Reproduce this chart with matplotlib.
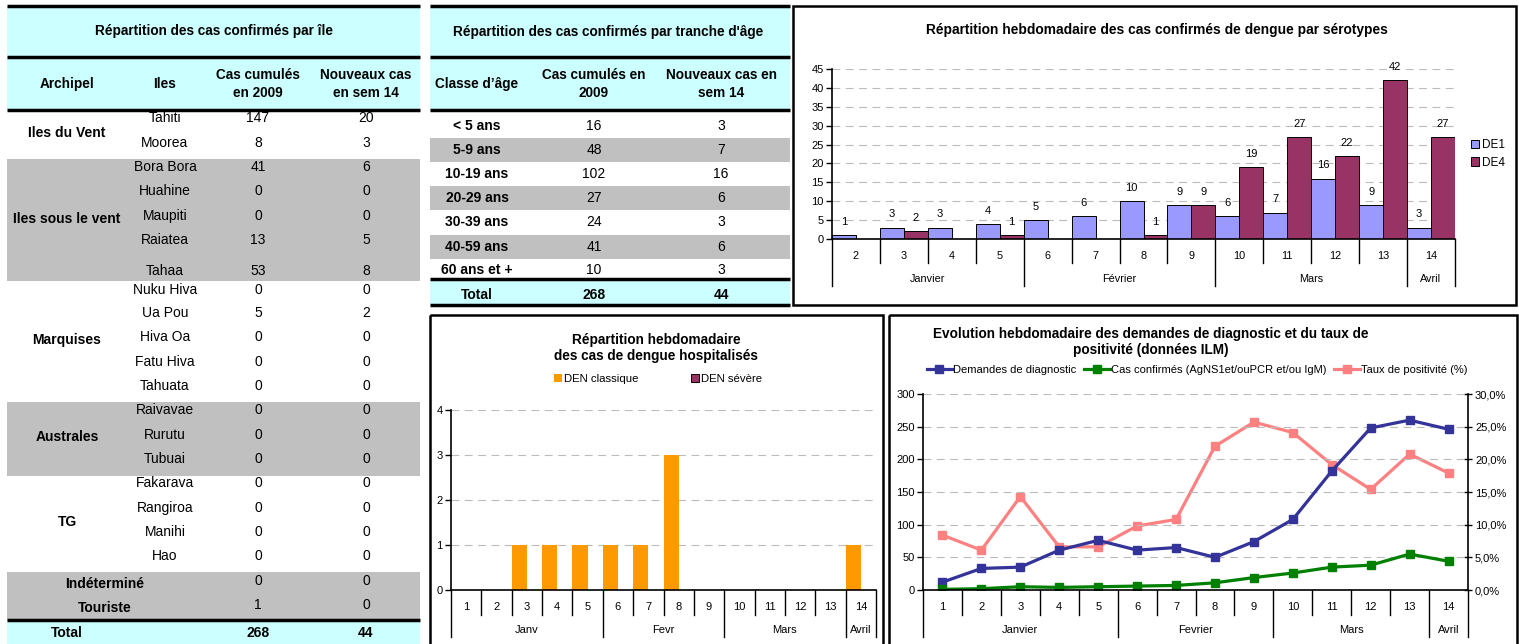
import numpy as np
import matplotlib.pyplot as plt
from matplotlib.patches import Rectangle, Patch
from matplotlib.ticker import FuncFormatter

plt.rcParams['font.family'] = ['Liberation Sans', 'DejaVu Sans']

W, H = 1519, 644

# ---- data: table par île
archipels = ['Iles du Vent', 'Iles sous le vent', 'Marquises', 'Australes', 'TG']
archipel_sizes = [2, 5, 5, 3, 4]
iles = ['Tahiti', 'Moorea', 'Bora Bora', 'Huahine', 'Maupiti', 'Raiatea', 'Tahaa',
        'Nuku Hiva', 'Ua Pou', 'Hiva Oa', 'Fatu Hiva', 'Tahuata',
        'Raivavae', 'Rurutu', 'Tubuai',
        'Fakarava', 'Rangiroa', 'Manihi', 'Hao']
iles_cumul = [147, 8, 41, 0, 0, 13, 53, 0, 5, 0, 0, 0, 0, 0, 0, 0, 0, 0, 0]
iles_nouv = [20, 3, 6, 0, 0, 5, 8, 0, 2, 0, 0, 0, 0, 0, 0, 0, 0, 0, 0]
autres = ['Indéterminé', 'Touriste']
autres_cumul = [0, 1]
autres_nouv = [0, 0]
total_cumul, total_nouv = 268, 44

# ---- data: table par âge
classes_age = ['< 5 ans', '5-9 ans', '10-19 ans', '20-29 ans', '30-39 ans', '40-59 ans', '60 ans et +']
age_cumul = [16, 48, 102, 27, 24, 41, 10]
age_nouv = [3, 7, 16, 6, 3, 6, 3]

# ---- data: sérotypes
sero_weeks = ['2', '3', '4', '5', '6', '7', '8', '9', '10', '11', '12', '13', '14']
de1 = [1, 3, 3, 4, 5, 6, 10, 9, 6, 7, 16, 9, 3]
de4 = [0, 2, 0, 1, 0, 0, 1, 9, 19, 27, 22, 42, 27]
sero_months = ['Janvier', 'Février', 'Mars', 'Avril']
sero_month_len = [4, 4, 4, 1]

# ---- data: hospitalisés
hosp_weeks = [str(i) for i in range(1, 15)]
den_classique = [0, 0, 1, 1, 1, 1, 1, 3, 0, 0, 0, 0, 0, 1]
den_severe = [0] * 14
hosp_months = ['Janv', 'Fevr', 'Mars', 'Avril']
hosp_month_len = [5, 4, 4, 1]

# ---- data: ILM
ilm_weeks = [str(i) for i in range(1, 15)]
demandes = [12, 33, 35, 61, 76, 61, 65, 50, 74, 108, 182, 248, 260, 246]
confirmes = [1, 2, 5, 4, 5, 6, 7, 11, 19, 26, 35, 38, 55, 44]
taux = [8.4, 6.1, 14.3, 6.6, 6.6, 9.8, 10.8, 22.0, 25.7, 24.1, 19.2, 15.4, 20.8, 17.9]
ilm_months = ['Janvier', 'Fevrier', 'Mars', 'Avril']
ilm_month_len = [5, 4, 4, 1]

CYAN = '#CCFFFF'
GREY = '#C0C0C0'

fig = plt.figure(figsize=(W / 100, H / 100), dpi=100)
bg = fig.add_axes([0, 0, 1, 1])
bg.set_xlim(0, W)
bg.set_ylim(H, 0)
bg.axis('off')


def T(x, y, s, size=10, bold=False, **kw):
    bg.text(x, y, s, fontsize=size, fontweight='bold' if bold else 'normal',
            ha=kw.pop('ha', 'center'), va=kw.pop('va', 'center'), **kw)


def band(x0, x1, y0, y1, color):
    bg.add_patch(Rectangle((x0, y0), x1 - x0, y1 - y0, color=color, lw=0))


def hline(x0, x1, y, lw=2.5):
    bg.plot([x0, x1], [y, y], color='black', lw=lw, solid_capstyle='butt')


# ============ table 1 : par île
tx0, tx1 = 7, 420
band(tx0, tx1, 6, 110, CYAN)
band(tx0, tx1, 159, 281, GREY)
band(tx0, tx1, 402, 476, GREY)
band(tx0, tx1, 572, 620, GREY)
band(tx0, tx1, 620, 644, CYAN)
for y in (6, 57, 110, 620):
    hline(tx0, tx1, y)
T(214, 31, 'Répartition des cas confirmés par île', size=9.8, bold=True)
T(67, 84, 'Archipel', size=9.8, bold=True)
T(165, 84, 'Iles', size=9.8, bold=True)
T(258, 84, 'Cas cumulés\nen 2009', size=9.8, bold=True, linespacing=1.35)
T(366, 84, 'Nouveaux cas\nen sem 14', size=9.8, bold=True, linespacing=1.35)
row_y = [118, 143, 167, 191, 216, 240, 271, 290, 313, 337, 362, 386,
         410, 435, 459, 483, 508, 532, 556]
for y, name, c, n in zip(row_y, iles, iles_cumul, iles_nouv):
    T(165, y, name)
    T(258, y, str(c))
    T(366, y, str(n))
start = 0
for name, k in zip(archipels, archipel_sizes):
    T(67, np.mean(row_y[start:start + k]) + 2, name, bold=True)
    start += k
for y, name, c, n in zip([583, 607], autres, autres_cumul, autres_nouv):
    T(105, y + 1, name, bold=True)
    T(258, y - 2, str(c))
    T(366, y - 2, str(n))
T(67, 633, 'Total', bold=True)
T(258, 633, str(total_cumul), bold=True)
T(366, 633, str(total_nouv), bold=True)

# ============ table 2 : par âge
ax0, ax1 = 430, 790
band(ax0, ax1, 6, 110, CYAN)
age_y = [126, 150, 174, 198, 222, 247, 270]
for i, y in enumerate(age_y):
    if i % 2 == 1:
        band(ax0, ax1, y - 12, y + 12, GREY)
band(ax0, ax1, 279, 305, CYAN)
for y in (6, 57, 110, 279, 305):
    hline(ax0, ax1, y)
T(608, 32, "Répartition des cas confirmés par tranche d'âge", size=9.8, bold=True)
T(477, 84, 'Classe d’âge', size=9.8, bold=True)
T(594, 84, 'Cas cumulés en\n2009', size=9.8, bold=True, linespacing=1.35)
T(721, 84, 'Nouveaux cas en\nsem 14', size=9.8, bold=True, linespacing=1.35)
for y, name, c, n in zip(age_y, classes_age, age_cumul, age_nouv):
    T(477, y, name, bold=True)
    T(594, y, str(c))
    T(721, y, str(n))
T(477, 295, 'Total', bold=True)
T(594, 295, str(sum(age_cumul)), bold=True)
T(721, 295, str(sum(age_nouv)), bold=True)


# ============ chart frames
def frame(x0, y0, x1, y1):
    bg.add_patch(Rectangle((x0, y0), x1 - x0, y1 - y0, fill=False, ec='black', lw=1.8))


frame(793, 6, 1516, 305)
frame(430, 315, 883, 650)
frame(889, 315, 1517, 650)


def px_axes(x0, y0, x1, y1):
    return fig.add_axes([x0 / W, 1 - y1 / H, (x1 - x0) / W, (y1 - y0) / H])


def style(ax, size):
    for s in ('top', 'right'):
        ax.spines[s].set_visible(False)
    ax.spines['left'].set_linewidth(1.2)
    ax.spines['bottom'].set_linewidth(1.2)
    ax.yaxis.grid(True, color='#BBBBBB', ls=(0, (7, 5)), lw=0.8)
    ax.set_axisbelow(True)
    ax.tick_params(axis='x', length=0, labelbottom=False)
    ax.tick_params(axis='y', length=4, width=1, direction='out', labelsize=size, pad=2)


def cat_axis(ax, y_top, y_bot, weeks, months, month_len, y_wk, y_mo, y_wsep, y_msep, size=8):
    h = y_bot - y_top
    f = lambda yp: (y_bot - yp) / h
    tr = ax.get_xaxis_transform()
    n = len(weeks)
    ax.set_xlim(-0.5, n - 0.5)
    for i, w in enumerate(weeks):
        ax.text(i, f(y_wk), w, transform=tr, ha='center', va='center', fontsize=size)
    bounds = np.cumsum([0] + month_len)
    for i in range(n + 1):
        yl = y_msep if i in bounds else y_wsep
        ax.plot([i - 0.5, i - 0.5], [0, f(yl)], transform=tr, color='black', lw=1, clip_on=False)
    for m, a, b in zip(months, bounds[:-1], bounds[1:]):
        ax.text((a + b - 1) / 2, f(y_mo), m, transform=tr, ha='center', va='center', fontsize=size)


# ============ chart 3 : sérotypes
ax = px_axes(832, 69, 1455, 239)
style(ax, 8)
x = np.arange(len(sero_weeks))
ax.set_ylim(0, 45)
ax.set_yticks(range(0, 46, 5))
for off, vals, col in ((-0.25, de1, '#9999FF'), (0.25, de4, '#993366')):
    for xi, v in zip(x, vals):
        if v > 0:
            ax.bar(xi + off, v, width=0.5, color=col, edgecolor='black', lw=0.7)
            ax.text(xi + off, v + 2.2, str(v), ha='center', va='bottom', fontsize=8)
cat_axis(ax, 69, 239, sero_weeks, sero_months, sero_month_len, 256, 279, 263, 286, size=7.8)
fig.text(1157 / W, 1 - 30 / H, 'Répartition hebdomadaire des cas confirmés de dengue par sérotypes',
         ha='center', va='center', fontsize=9.9, fontweight='bold')
ax.legend(handles=[Patch(fc='#9999FF', ec='black', lw=0.7, label='DE1'),
                   Patch(fc='#993366', ec='black', lw=0.7, label='DE4')],
          loc='center left', bbox_to_anchor=(1465 / W, 1 - 154 / H), bbox_transform=fig.transFigure,
          frameon=False, fontsize=8.5, handlelength=0.7, handleheight=0.7, handletextpad=0.2,
          labelspacing=0.45, borderpad=0)

# ============ chart 4 : hospitalisés
ax = px_axes(451, 410, 876, 590)
style(ax, 8)
x = np.arange(len(hosp_weeks))
ax.set_ylim(0, 4)
ax.set_yticks(range(0, 5))
ax.bar(x - 0.25, den_classique, width=0.5, color='#FF9900', lw=0)
ax.bar(x + 0.25, den_severe, width=0.5, color='#993366', lw=0)
cat_axis(ax, 410, 590, hosp_weeks, hosp_months, hosp_month_len, 607, 630, 615, 637)
fig.text(656 / W, 1 - 348 / H, 'Répartition hebdomadaire\ndes cas de dengue hospitalisés',
         ha='center', va='center', fontsize=9.8, fontweight='bold', linespacing=1.25)
ax.legend(handles=[Patch(fc='#FF9900', lw=0, label='DEN classique'),
                   Patch(fc='#993366', ec='black', lw=0.7, label='DEN sévère')],
          loc='center', bbox_to_anchor=(658 / W, 1 - 379 / H), bbox_transform=fig.transFigure,
          ncol=2, frameon=False, fontsize=8.2, handlelength=0.7, handleheight=0.7,
          handletextpad=0.2, columnspacing=4.6, borderpad=0)

# ============ chart 5 : ILM
ax = px_axes(923, 394, 1468, 590)
style(ax, 8)
x = np.arange(len(ilm_weeks))
ax.set_ylim(0, 300)
ax.set_yticks(range(0, 301, 50))
l1, = ax.plot(x, demandes, color='#333399', lw=2.3, marker='s', ms=5.5, label='Demandes de diagnostic')
l2, = ax.plot(x, confirmes, color='#008000', lw=2.3, marker='s', ms=5.5,
              label='Cas confirmés (AgNS1et/ouPCR et/ou IgM)')
ax2 = ax.twinx()
ax2.set_ylim(0, 30)
ax2.set_yticks(range(0, 31, 5))
ax2.yaxis.set_major_formatter(FuncFormatter(lambda v, p: f'{v:.1f}%'.replace('.', ',')))
l3, = ax2.plot(x, taux, color='#FF8080', lw=2.3, marker='s', ms=5.5, label='Taux de positivité (%)')
for s in ('top', 'left', 'bottom'):
    ax2.spines[s].set_visible(False)
ax2.spines['right'].set_linewidth(1.2)
ax2.tick_params(axis='y', length=6, width=1, direction='inout', labelsize=8, pad=2)
ax.set_zorder(ax2.get_zorder() + 1)
ax.patch.set_visible(False)
cat_axis(ax, 394, 590, ilm_weeks, ilm_months, ilm_month_len, 607, 630, 615, 637)
fig.text(1151 / W, 1 - 342 / H, 'Evolution hebdomadaire des demandes de diagnostic et du taux de\npositivité (données ILM)',
         ha='center', va='center', fontsize=9.8, fontweight='bold', linespacing=1.25)
ax.legend(handles=[l1, l2, l3], loc='center', bbox_to_anchor=(1197 / W, 1 - 370 / H),
          bbox_transform=fig.transFigure, ncol=3, frameon=False, fontsize=8,
          handlelength=2.3, handletextpad=0.1, columnspacing=0.7, borderpad=0)

fig.savefig('out.png', dpi=100)
